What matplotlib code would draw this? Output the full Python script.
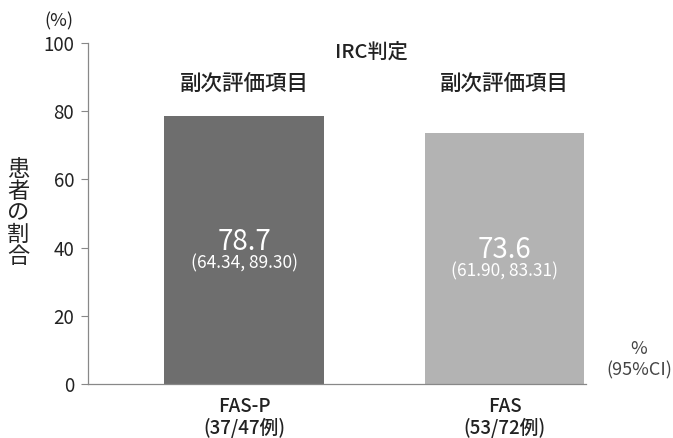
import matplotlib.pyplot as plt
import numpy as np

plt.rcParams['font.family'] = ['Noto Sans CJK JP', 'DejaVu Sans']

# 奏効率データ
groups = ['FAS-P\n(37/47例)', 'FAS\n(53/72例)']
rates = [78.7, 73.6]
ci_labels = ['(64.34, 89.30)', '(61.90, 83.31)']
bar_colors = ['#6e6e6e', '#b3b3b3']
yticks = [0, 20, 40, 60, 80, 100]

txt = '#222222'
fig = plt.figure(figsize=(6.73, 4.38), dpi=100)
ax = fig.add_axes([88/673, 1-384/438, (586-88)/673, (384-43)/438])

x = np.arange(len(groups))
ax.bar(x, rates, width=0.614, color=bar_colors, zorder=2)

# 棒の中の値と95%CI
for xi, r, ci in zip(x, rates, ci_labels):
    ax.text(xi, r/2 + 2.4, f'{r:.1f}', ha='center', va='center',
            color='white', fontsize=20)
    ax.text(xi, r/2 - 3.9, ci, ha='center', va='center',
            color='white', fontsize=12.5)

ax.set_xlim(-0.599, 1.313)
ax.set_ylim(0, 100)
ax.set_yticks(yticks)
ax.set_yticklabels([str(t) for t in yticks], fontsize=13.5, color=txt)
ax.set_xticks(x)
ax.set_xticklabels(groups, fontsize=13.5, color=txt, linespacing=1.15,
                   fontweight='medium')
ax.tick_params(axis='x', length=0, pad=9)
ax.tick_params(axis='y', length=5, width=0.8, color='#888888', pad=5)

for s in ['top', 'right']:
    ax.spines[s].set_visible(False)
for s in ['left', 'bottom']:
    ax.spines[s].set_color('#888888')
    ax.spines[s].set_linewidth(0.9)

fig.text(59/673, 1-21/438, '(%)', ha='center', va='center', fontsize=13, color=txt)
fig.text(18/673, 1-213/438, '\n'.join('患者の割合'), ha='center', va='center',
         fontsize=16, color=txt, linespacing=0.92)
fig.text(371/673, 1-52/438, 'IRC判定', ha='center', va='center', fontsize=14.5,
         color=txt, fontweight='medium')
for xi in x:
    ax.text(xi, 88, '副次評価項目', ha='center', va='center', fontsize=15.5,
            color=txt, fontweight='medium')
fig.text(639/673, 1-349/438, '%', ha='center', va='center', fontsize=13, color='#444444')
fig.text(639/673, 1-370/438, '(95%CI)', ha='center', va='center', fontsize=13, color='#444444')

fig.savefig('out.png', dpi=100)
